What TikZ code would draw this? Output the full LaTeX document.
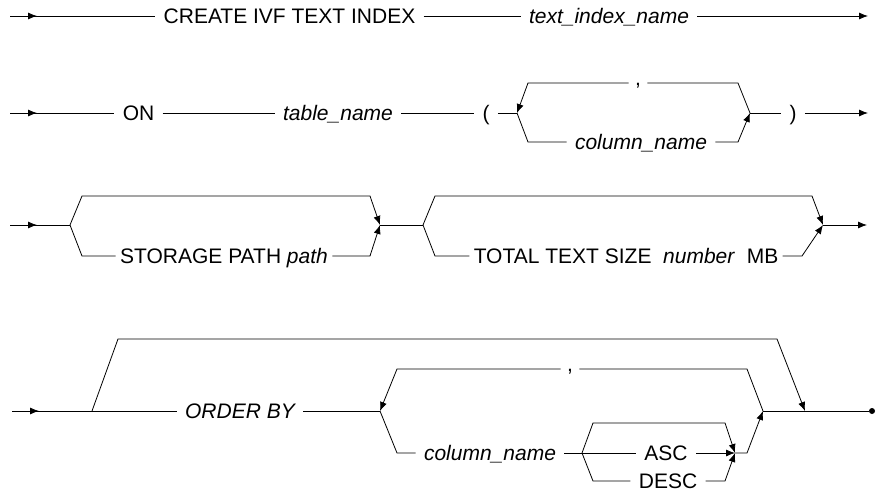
\documentclass[tikz,border=0pt]{standalone}
\usepackage{fontspec}
\setmainfont{Liberation Sans}
\usepackage{tikz}
\usetikzlibrary{arrows.meta, decorations.markings, calc}
\newcommand{\rrsize}{\fontsize{21}{25}\selectfont}

\begin{document}
\begin{tikzpicture}[x=1pt, y=-1pt, line width=0.8pt,
    term/.style={inner xsep=8pt, inner ysep=0pt, text height=15pt, text depth=0pt, font=\rrsize},
    var/.style={term, font=\rrsize\itshape},
    punct/.style={term, inner xsep=6pt, text height=4pt, text depth=0pt},
    dot/.style={circle, fill, inner sep=0pt, minimum size=6pt},
    into/.style={-{Latex[length=9pt, width=7pt]}},
    entry/.style={postaction={decorate}, decoration={markings, mark=at position 27pt with {\arrow{Latex[length=9pt, width=7pt]}}}}]
    \useasboundingbox (0,0) rectangle (877,493);
    % Row 1 - create
    \coordinate (s1) at (10,16);
    \node[term] (create) at (289.5,16) {CREATE IVF TEXT INDEX};
    \node[var] (tiname) at (609,16) {text\_index\_name};
    \coordinate (e1) at (868,16);
    \draw[entry] (s1) -- (create);
    \draw (create) -- (tiname);
    \draw[into] (tiname) -- (e1);
    % Row 2 - table and columns
    \coordinate (s2) at (10,113);
    \node[term] (on) at (138.5,113) {ON};
    \node[var] (tname) at (338,113) {table\_name};
    \node[term] (lpar) at (486,113) {(};
    \coordinate (b2l) at (517,113);
    \coordinate (b2r) at (750,113);
    \node[punct] (comma2) at (638,83) {,};
    \node[var] (col2) at (641,142) {column\_name};
    \node[term] (rpar) at (793,113) {)};
    \coordinate (e2) at (868,113);
    \draw[entry] (s2) -- (on);
    \draw (on) -- (tname);
    \draw (tname) -- (lpar);
    \draw (lpar) -- (b2l);
    \draw (b2l) -- ++(11,29) -- (col2);
    \draw[into] (col2) -- ([shift={(-12,29)}]b2r) -- (b2r);
    \draw (b2r) -- ++(-12,-30) -- (comma2);
    \draw[into] (comma2) -- ([shift={(11,-30)}]b2l) -- (b2l);
    \draw (b2r) -- (rpar);
    \draw[into] (rpar) -- (e2);
    % Row 3 - storage options
    \coordinate (s3) at (10,225);
    \coordinate (b3a) at (70,225);
    \coordinate (b3b) at (380,225);
    \coordinate (b3c) at (423,225);
    \coordinate (b3d) at (823,225);
    \coordinate (e3) at (867,225);
    \node[term, inner xsep=4pt] (storage) at (224,256) {STORAGE PATH \textit{path}};
    \node[term, inner xsep=4pt] (total) at (626,256) {TOTAL TEXT SIZE\ \ \textit{number}\ \ MB};
    \draw[entry] (s3) -- (b3a);
    \draw[into] (b3a) -- ++(12,-29) -- ([shift={(-10,-29)}]b3b) -- (b3b);
    \draw (b3a) -- ++(12,31) -- (storage);
    \draw[into] (storage) -- ([shift={(-10,31)}]b3b) -- (b3b);
    \draw (b3b) -- (b3c);
    \draw[into] (b3c) -- ++(12,-29) -- ([shift={(-11,-29)}]b3d) -- (b3d);
    \draw (b3c) -- ++(12,31) -- (total);
    \draw[into] (total) -- ([shift={(-21,31)}]b3d) -- (b3d);
    \draw[into] (b3d) -- (e3);
    % Row 4 - order by
    \coordinate (s4) at (12,411);
    \coordinate (b4a) at (92,411);
    \node[var] (order) at (240,411) {ORDER BY};
    \coordinate (b4b) at (380,411);
    \node[punct] (comma4) at (570,369) {,};
    \node[var] (col4) at (490,453) {column\_name};
    \coordinate (b4c) at (582,453);
    \node[term] (asc) at (666,453) {ASC};
    \node[term] (desc) at (668,481) {DESC};
    \coordinate (b4m) at (735,453);
    \coordinate (b4d) at (763,411);
    \coordinate (b4e) at (805,411);
    \node[dot] (end) at (872,411) {};
    \draw[entry] (s4) -- (b4a);
    \draw (b4a) -- (order);
    \draw (order) -- (b4b);
    \draw[into] (b4a) -- ++(26,-72) -- ([shift={(-28,-72)}]b4e) -- (b4e);
    \draw (b4d) -- ++(-16,-42) -- (comma4);
    \draw[into] (comma4) -- ([shift={(17,-42)}]b4b) -- (b4b);
    \draw (b4b) -- ++(17,42) -- (col4);
    \draw (col4) -- (b4c);
    \draw[into] (b4c) -- ++(11,-30) -- ([shift={(-10,-30)}]b4m) -- (b4m);
    \draw (b4c) -- (asc);
    \draw[into] (asc) -- (b4m);
    \draw (b4c) -- ++(11,28) -- (desc);
    \draw[into] (desc) -- ([shift={(-10,28)}]b4m) -- (b4m);
    \draw[into] (b4m) -- ++(12,0) -- (b4d);
    \draw (b4d) -- (end);
\end{tikzpicture}
\end{document}
